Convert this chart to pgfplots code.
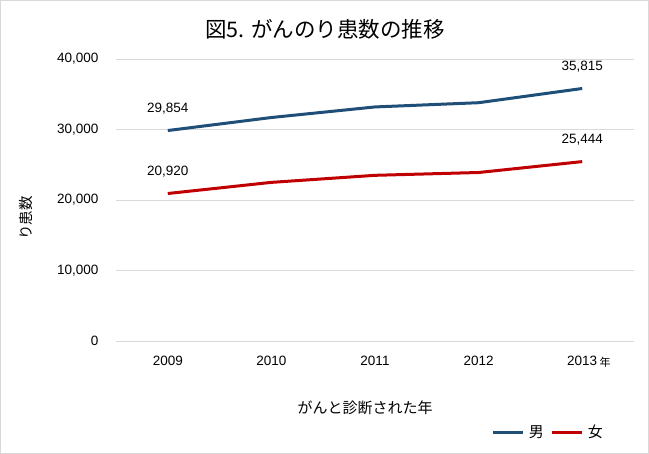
\documentclass[border=0pt]{standalone}
\usepackage{pgfplots}
\pgfplotsset{compat=1.18}
\usepackage{fontspec}
\setmainfont{Liberation Sans}
\newfontfamily\jp{Noto Sans CJK JP}
\definecolor{male}{HTML}{1F4E79}
\definecolor{female}{HTML}{C00000}
\definecolor{gridc}{HTML}{D9D9D9}
\definecolor{framec}{HTML}{D9D9D9}
\newcommand\tickfont{\fontsize{13.5}{16}\selectfont}

\begin{document}
\begin{tikzpicture}[x=1pt,y=1pt]
\path[use as bounding box] (0,0) rectangle (649,454);
\draw[framec, line width=1pt] (0.5,0.5) rectangle (648.5,453.5);

% title and axis titles
\node at (325,425) {\jp\fontsize{21.5}{25}\selectfont 図5. がんのり患数の推移};
\node[rotate=90] at (26,236) {\jp\fontsize{14.5}{17}\selectfont り患数};
\node at (365,46) {\jp\fontsize{15}{18}\selectfont がんと診断された年};
\node at (605,92) {\jp\fontsize{11}{13}\selectfont 年};

\begin{axis}[
  at={(116pt,113pt)}, anchor=south west,
  scale only axis, width=518pt, height=282pt,
  xmin=-0.5, xmax=4.5, ymin=0, ymax=40000,
  xtick={0,1,2,3,4}, xticklabels={2009,2010,2011,2012,2013},
  ytick={0,10000,20000,30000,40000},
  scaled y ticks=false,
  /pgf/number format/.cd, 1000 sep={,}, assume math mode=true, /pgfplots/.cd,
  axis line style={draw=none},
  major tick length=0pt,
  ymajorgrids, grid style={gridc, line width=0.9pt},
  tick label style={font=\tickfont},
  yticklabel style={xshift=-14pt},
  xticklabel style={yshift=-12pt},
  legend columns=2,
  legend style={at={(0.95,-0.323)}, anchor=east, draw=none, fill=none,
    font=\jp\fontsize{15}{17}\selectfont,
    /tikz/every even column/.append style={column sep=5pt}},
  legend image code/.code={\draw[#1, line width=3pt] (0pt,0pt) -- (30pt,0pt);},
]
\addplot[male, line width=3pt] coordinates {
  (0,29854) (1,31700) (2,33200) (3,33800) (4,35815)};
\addlegendentry{\hspace{2pt}男}
\addplot[female, line width=3pt] coordinates {
  (0,20920) (1,22500) (2,23500) (3,23900) (4,25444)};
\addlegendentry{\hspace{2pt}女}

\node[font=\tickfont, yshift=21.5pt] at (axis cs:0,29854) {29,854};
\node[font=\tickfont, yshift=21.5pt] at (axis cs:4,35815) {35,815};
\node[font=\tickfont, yshift=21.5pt] at (axis cs:0,20920) {20,920};
\node[font=\tickfont, yshift=21.5pt] at (axis cs:4,25444) {25,444};
\end{axis}
\end{tikzpicture}
\end{document}
